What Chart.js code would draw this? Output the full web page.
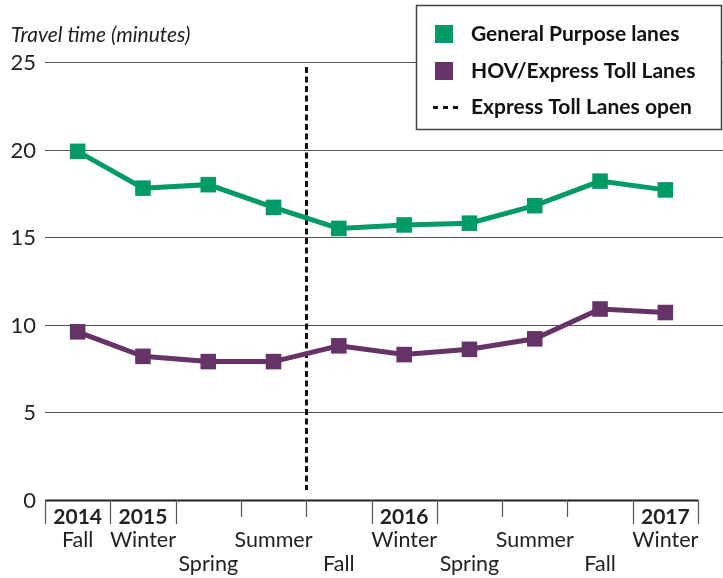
<!DOCTYPE html>
<html>
<head>
<meta charset="utf-8">
<script src="https://cdn.jsdelivr.net/npm/chart.js@4.4.0/dist/chart.umd.min.js"></script>
<style>
  html, body { margin: 0; padding: 0; background: #fff; }
  #wrap { width: 723px; height: 578px; }
</style>
</head>
<body>
<div id="wrap"><canvas id="travelChart" width="723" height="578"></canvas></div>
<script>
// Chart data
const seasons = ['Fall', 'Winter', 'Spring', 'Summer', 'Fall', 'Winter', 'Spring', 'Summer', 'Fall', 'Winter'];
const years = ['2014', '2015', '', '', '', '2016', '', '', '', '2017'];
const generalPurpose = [19.9, 17.8, 18.0, 16.7, 15.5, 15.7, 15.8, 16.8, 18.2, 17.7];
const hovExpress = [9.6, 8.2, 7.9, 7.9, 8.8, 8.3, 8.6, 9.2, 10.9, 10.7];
const yTicks = [0, 5, 10, 15, 20, 25];
const tollOpenAfter = 3; // dashed line sits between Summer 2015 and Fall 2015

const GREEN = '#009a66';
const PURPLE = '#663366';
const FONT = 'Lato, "Noto Sans", sans-serif';

// Draws axes, gridlines, labels, the dashed marker and the legend box
const decorations = {
  id: 'decorations',
  beforeDatasetsDraw(chart) {
    const { ctx, chartArea, scales: { x, y } } = chart;
    ctx.save();
    // horizontal gridlines
    yTicks.forEach((v) => {
      const py = Math.round(y.getPixelForValue(v)) + 0.5;
      ctx.beginPath();
      if (v === 0) {
        ctx.strokeStyle = '#222';
        ctx.lineWidth = 2;
        ctx.moveTo(chartArea.left, py);
        ctx.lineTo(chartArea.right, py);
      } else {
        ctx.strokeStyle = '#555';
        ctx.lineWidth = 1.2;
        ctx.moveTo(chartArea.left, py);
        ctx.lineTo(chart.width, py);
      }
      ctx.stroke();
      // y tick label
      ctx.fillStyle = '#222';
      ctx.font = '22px ' + FONT;
      ctx.textAlign = 'right';
      ctx.textBaseline = 'middle';
      ctx.fillText(String(v), 36, py);
    });

    // x tick marks at category boundaries
    const step = x.getPixelForValue(1) - x.getPixelForValue(0);
    ctx.strokeStyle = '#555';
    ctx.lineWidth = 1.2;
    for (let i = 0; i <= seasons.length; i++) {
      const px = Math.round(x.getPixelForValue(i) - step / 2) + 0.5;
      const nearYear = (years[i] || '') !== '' || (years[i - 1] || '') !== '';
      ctx.beginPath();
      ctx.moveTo(px, chartArea.bottom);
      ctx.lineTo(px, chartArea.bottom + (nearYear ? 24 : 17));
      ctx.stroke();
    }

    // x labels
    ctx.fillStyle = '#222';
    ctx.textAlign = 'center';
    ctx.textBaseline = 'middle';
    seasons.forEach((s, i) => {
      const px = x.getPixelForValue(i);
      if (years[i]) {
        ctx.font = 'bold 21px ' + FONT;
        ctx.fillText(years[i], px, 517);
      }
      ctx.font = '21.5px ' + FONT;
      const row = (i >= 2 && i % 2 === 0) ? 564 : 540;
      ctx.fillText(s, px, row);
    });

    // axis title
    ctx.font = 'italic 21px ' + FONT;
    ctx.textAlign = 'left';
    ctx.textBaseline = 'alphabetic';
    ctx.fillText('Travel time (minutes)', 11, 42);

    // dashed "Express Toll Lanes open" marker
    const dx = Math.round((x.getPixelForValue(tollOpenAfter) + x.getPixelForValue(tollOpenAfter + 1)) / 2) + 0.5;
    ctx.strokeStyle = '#111';
    ctx.lineWidth = 3;
    ctx.setLineDash([6, 3.5]);
    ctx.beginPath();
    ctx.moveTo(dx, 67);
    ctx.lineTo(dx, 490);
    ctx.stroke();
    ctx.setLineDash([]);
    ctx.restore();
  },
  afterDraw(chart) {
    const { ctx } = chart;
    ctx.save();
    // legend box
    ctx.fillStyle = '#fff';
    ctx.fillRect(416, 5, 306, 125);
    ctx.strokeStyle = '#444';
    ctx.lineWidth = 1.5;
    ctx.strokeRect(416.5, 5.5, 305, 124);

    const items = [
      { label: chart.data.datasets[0].label, color: GREEN, y: 34 },
      { label: chart.data.datasets[1].label, color: PURPLE, y: 71 },
      { label: 'Express Toll Lanes open', color: null, y: 107 },
    ];
    ctx.font = 'bold 21px ' + FONT;
    ctx.textAlign = 'left';
    ctx.textBaseline = 'middle';
    items.forEach((it) => {
      if (it.color) {
        ctx.fillStyle = it.color;
        ctx.fillRect(435, it.y - 9, 18, 18);
      } else {
        ctx.strokeStyle = '#111';
        ctx.lineWidth = 3;
        ctx.setLineDash([5, 5]);
        ctx.beginPath();
        ctx.moveTo(433, it.y + 0.5);
        ctx.lineTo(461, it.y + 0.5);
        ctx.stroke();
        ctx.setLineDash([]);
      }
      ctx.fillStyle = '#111';
      ctx.fillText(it.label, 471, it.y);
    });
    ctx.restore();
  },
};

new Chart(document.getElementById('travelChart').getContext('2d'), {
  type: 'line',
  data: {
    labels: seasons,
    datasets: [
      {
        label: 'General Purpose lanes',
        data: generalPurpose,
        borderColor: GREEN,
        backgroundColor: GREEN,
        borderWidth: 5,
        pointStyle: 'rect',
        pointRadius: 11,
        pointBorderWidth: 0,
        tension: 0,
      },
      {
        label: 'HOV/Express Toll Lanes',
        data: hovExpress,
        borderColor: PURPLE,
        backgroundColor: PURPLE,
        borderWidth: 5,
        pointStyle: 'rect',
        pointRadius: 11,
        pointBorderWidth: 0,
        tension: 0,
      },
    ],
  },
  options: {
    responsive: false,
    animation: false,
    clip: false,
    layout: { padding: { left: 45, right: 25, top: 62, bottom: 78 } },
    plugins: {
      legend: { display: false },
      tooltip: { enabled: false },
    },
    scales: {
      x: { type: 'category', offset: true, display: false },
      y: { min: 0, max: 25, display: false },
    },
  },
  plugins: [decorations],
});
</script>
</body>
</html>
